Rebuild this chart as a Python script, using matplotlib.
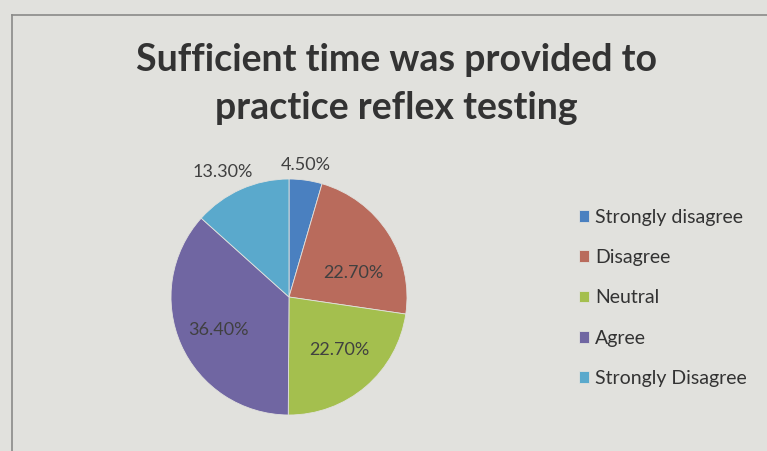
import matplotlib.pyplot as plt
import numpy as np

# --- data ---
categories = ['Strongly disagree', 'Disagree', 'Neutral', 'Agree', 'Strongly Disagree']
percents = [4.5, 22.7, 22.7, 36.4, 13.3]
pct_labels = ['4.50%', '22.70%', '22.70%', '36.40%', '13.30%']

colors = ['#4a80c0', '#b96b5c', '#a4bf4e', '#7066a2', '#5aa9cc']
label_dist = [1.13, 0.58, 0.62, 0.66, 1.2]
label_turn = [1, -12, 3, 1, 4]   # small angle nudges (deg) to match excel placement

bg = '#e1e1dd'
txt = '#333333'
plt.rcParams['font.family'] = ['Lato', 'DejaVu Sans']

fig = plt.figure(figsize=(7.67, 4.51), dpi=100, facecolor=bg)

# chart frame edges (photo shows only top and left)
fig.add_artist(plt.Line2D([12/767, 12/767], [0, 1 - 15/451], color='#8a8a88', lw=1.2))
fig.add_artist(plt.Line2D([12/767, 1], [1 - 15/451, 1 - 15/451], color='#8a8a88', lw=1.2))

fig.text(396/767, 1 - 60/451, 'Sufficient time was provided to', ha='center', va='center',
         fontsize=27, fontweight='bold', color=txt)
fig.text(396/767, 1 - 108/451, 'practice reflex testing', ha='center', va='center',
         fontsize=27, fontweight='bold', color=txt)

ax = fig.add_axes([(289 - 118)/767, (451 - 297 - 118)/451, 236/767, 236/451])
ax.set_facecolor(bg)
wedges, _ = ax.pie(percents, colors=colors, startangle=90, counterclock=False, radius=1,
                   wedgeprops=dict(linewidth=0.6, edgecolor=bg))
ax.set_xlim(-1, 1)
ax.set_ylim(-1, 1)
ax.axis('off')

for w, lab, d, t in zip(wedges, pct_labels, label_dist, label_turn):
    ang = np.deg2rad((w.theta1 + w.theta2) / 2 + t)
    ax.text(d * np.cos(ang), d * np.sin(ang), lab, ha='center', va='center',
            fontsize=13, color='#404040', clip_on=False)

leg = fig.legend(wedges, categories, loc='upper left', bbox_to_anchor=(569/767, 1 - 199/451),
                 frameon=False, fontsize=14, handlelength=0.55, handleheight=0.55,
                 handletextpad=0.3, labelspacing=1.2, borderpad=0)
for t in leg.get_texts():
    t.set_color(txt)

fig.savefig('out.png', dpi=100, facecolor=bg)
